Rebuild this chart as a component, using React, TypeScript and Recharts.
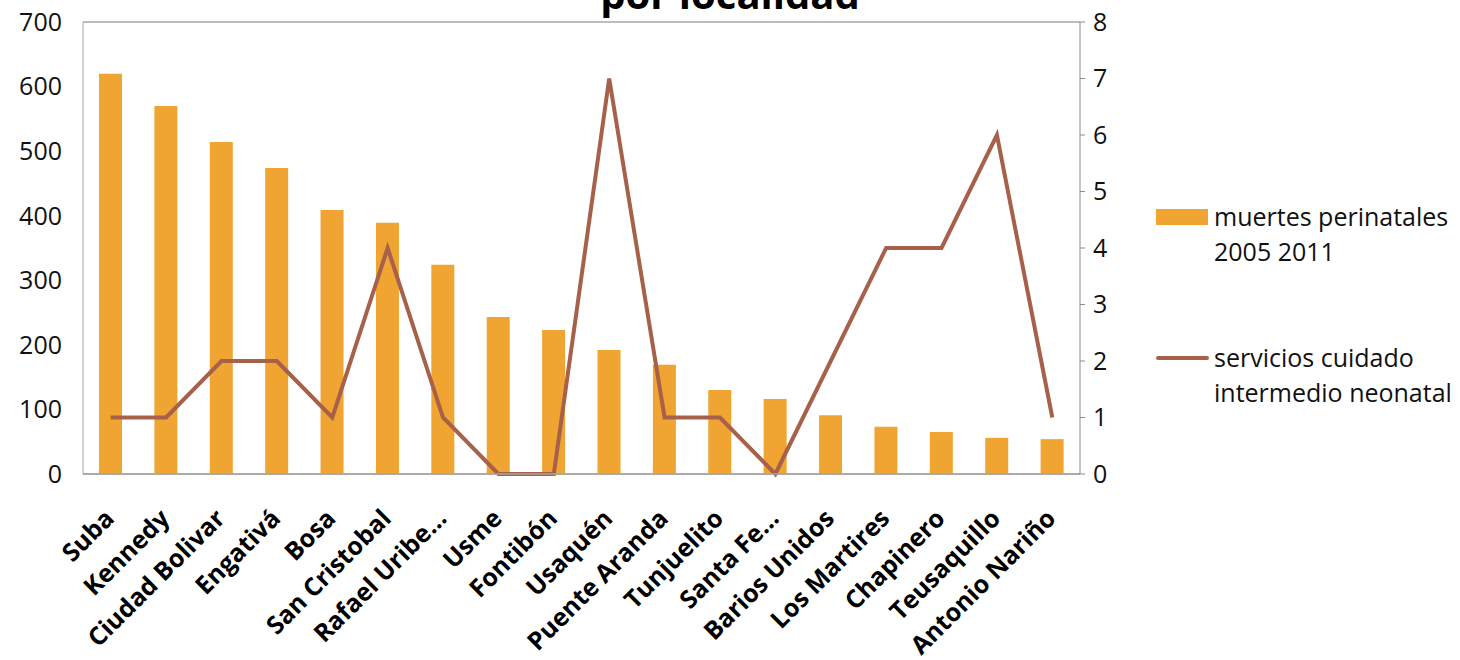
import { ComposedChart, Bar, Line, XAxis, YAxis, CartesianGrid } from "recharts";

const localidades = [
  "Suba",
  "Kennedy",
  "Ciudad Bolivar",
  "Engativá",
  "Bosa",
  "San Cristobal",
  "Rafael Uribe…",
  "Usme",
  "Fontibón",
  "Usaquén",
  "Puente Aranda",
  "Tunjuelito",
  "Santa Fe…",
  "Barios Unidos",
  "Los Martires",
  "Chapinero",
  "Teusaquillo",
  "Antonio Nariño",
];

const muertesPerinatales = [620, 570, 514, 474, 409, 389, 324, 243, 223, 192, 169, 130, 116, 91, 73, 65, 56, 54];
const serviciosNeonatal = [1, 1, 2, 2, 1, 4, 1, 0, 0, 7, 1, 1, 0, 2, 4, 4, 6, 1];

const leftTicks = [0, 100, 200, 300, 400, 500, 600, 700];
const rightTicks = [0, 1, 2, 3, 4, 5, 6, 7, 8];

const data = localidades.map((name, i) => ({
  name,
  muertes: muertesPerinatales[i],
  servicios: serviciosNeonatal[i],
}));

const BAR_COLOR = "#F0A431";
const LINE_COLOR = "#A7614A";
const FONT = "'Open Sans', sans-serif";

// rotated category labels, anchored at their end just below the tick
const XTick = ({ x, y, payload }: any) => (
  <g transform={`translate(${x + 5},${y + 38})`}>
    <text
      x={0}
      y={0}
      textAnchor="end"
      transform="rotate(-45)"
      fontFamily={FONT}
      fontWeight={700}
      fontSize={25}
      fill="#000"
    >
      {payload.value}
    </text>
  </g>
);

const legendText: React.CSSProperties = { fontFamily: FONT, fontSize: 25, color: "#111", lineHeight: "35px" };

export default function App() {
  return (
    <div style={{ position: "absolute", left: 0, top: 0, width: 1460, height: 660, background: "#fff", overflow: "hidden" }}>
      <div
        style={{
          position: "absolute",
          left: 0,
          width: 1460,
          top: -26,
          textAlign: "center",
          fontFamily: FONT,
          fontWeight: 700,
          fontSize: 40,
          lineHeight: "40px",
          color: "#000",
        }}
      >
        por localidad
      </div>
      <ComposedChart width={1460} height={660} data={data} margin={{ top: 22, right: 300, bottom: 0, left: 0 }}>
        <CartesianGrid vertical={false} stroke="#A6A6A6" strokeWidth={1.5} />
        <XAxis
          dataKey="name"
          interval={0}
          height={186}
          tick={<XTick />}
          tickLine={false}
          axisLine={{ stroke: "#A6A6A6", strokeWidth: 1.5 }}
        />
        <YAxis
          yAxisId="left"
          width={83}
          domain={[0, 700]}
          ticks={leftTicks}
          tickLine={false}
          tickMargin={15}
          axisLine={{ stroke: "#A6A6A6" }}
          tick={{ fontFamily: FONT, fontSize: 25, fill: "#111" }}
        />
        <YAxis
          yAxisId="right"
          orientation="right"
          width={80}
          domain={[0, 8]}
          ticks={rightTicks}
          tickSize={5}
          tickMargin={8}
          stroke="#8C8C8C"
          tick={{ fontFamily: FONT, fontSize: 25, fill: "#111" }}
        />
        <Bar yAxisId="left" dataKey="muertes" fill={BAR_COLOR} barSize={23} isAnimationActive={false} />
        <Line
          yAxisId="right"
          type="linear"
          dataKey="servicios"
          stroke={LINE_COLOR}
          strokeWidth={4}
          dot={false}
          isAnimationActive={false}
        />
      </ComposedChart>
      <div style={{ position: "absolute", left: 1156, top: 199 }}>
        <div style={{ display: "flex", alignItems: "flex-start" }}>
          <div style={{ width: 52, height: 16, background: BAR_COLOR, marginTop: 10, marginRight: 6 }} />
          <div style={legendText}>
            muertes perinatales
            <br />
            2005 2011
          </div>
        </div>
        <div style={{ display: "flex", alignItems: "flex-start", marginTop: 71 }}>
          <div style={{ width: 53, height: 4, background: LINE_COLOR, marginTop: 16, marginRight: 5, borderRadius: 2 }} />
          <div style={legendText}>
            servicios cuidado
            <br />
            intermedio neonatal
          </div>
        </div>
      </div>
    </div>
  );
}
